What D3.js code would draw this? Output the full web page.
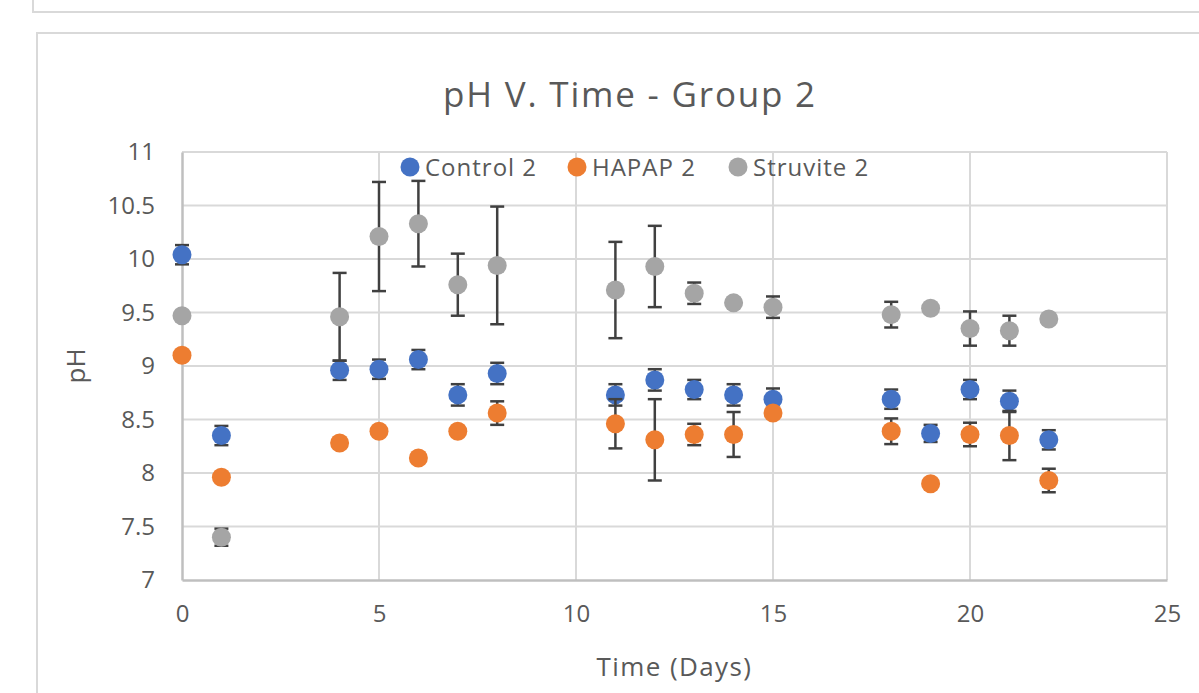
<!DOCTYPE html>
<html lang="en">
<head>
  <meta charset="UTF-8">
  <title>pH V. Time - Group 2</title>
  <script src="https://cdn.jsdelivr.net/npm/d3@7"></script>
  <style type="text/css">
    body { margin:0; background:#fff; }
    svg { display:block; }
    text { font-family: "Open Sans", sans-serif; fill:#595959; }
  </style>
</head>
<body>
<svg id="chart" width="1199" height="693"></svg>
<script>

  const days     = [0, 1, 4, 5, 6, 7, 8, 11, 12, 13, 14, 15, 18, 19, 20, 21, 22];
  const control  = [10.04, 8.35, 8.96, 8.97, 9.06, 8.73, 8.93, 8.73, 8.87, 8.78, 8.73, 8.69, 8.69, 8.37, 8.78, 8.67, 8.31];
  const controlErr = [0.09, 0.09, 0.09, 0.09, 0.09, 0.10, 0.10, 0.10, 0.10, 0.09, 0.10, 0.10, 0.09, 0.08, 0.09, 0.10, 0.09];
  const hapap    = [9.10, 7.96, 8.28, 8.39, 8.14, 8.39, 8.56, 8.46, 8.31, 8.36, 8.36, 8.56, 8.39, 7.90, 8.36, 8.35, 7.93];
  const hapapErr = [0.02, 0.03, 0.03, 0.02, 0.03, 0.03, 0.11, 0.23, 0.38, 0.10, 0.21, 0.02, 0.12, 0.03, 0.11, 0.23, 0.11];
  const struvite = [9.47, 7.40, 9.46, 10.21, 10.33, 9.76, 9.94, 9.71, 9.93, 9.68, 9.59, 9.55, 9.48, 9.54, 9.35, 9.33, 9.44];
  const struviteErr = [0.03, 0.08, 0.41, 0.51, 0.40, 0.29, 0.55, 0.45, 0.38, 0.10, 0.03, 0.10, 0.12, 0.00, 0.16, 0.14, 0.04];

  const xTicks = [0, 5, 10, 15, 20, 25];
  const yTicks = [7, 7.5, 8, 8.5, 9, 9.5, 10, 10.5, 11];

  const series = [
    {name: 'Control 2',  values: control,  errs: controlErr,  color: '#4472C4'},
    {name: 'HAPAP 2',    values: hapap,    errs: hapapErr,    color: '#ED7D31'},
    {name: 'Struvite 2', values: struvite, errs: struviteErr, color: '#A5A5A5'}
  ];

  const svg = d3.select('#chart');

  // screenshot frames
  svg.append('rect').attr('x', 33).attr('y', -20).attr('width', 1200).attr('height', 32)
    .attr('fill', 'none').attr('stroke', '#d9d9d9').attr('stroke-width', 2);
  svg.append('rect').attr('x', 37).attr('y', 33).attr('width', 1200).attr('height', 700)
    .attr('fill', '#fff').attr('stroke', '#d9d9d9').attr('stroke-width', 2);

  const pL = 182, pR = 1167, pT = 152, pB = 580;
  const x = d3.scaleLinear().domain([0, 25]).range([pL, pR]);
  const y = d3.scaleLinear().domain([7, 11]).range([pB, pT]);

  // grid
  const grid = svg.append('g');
  grid.selectAll('.hg').data(yTicks.slice(1)).enter().append('line')
    .attr('x1', pL).attr('x2', pR).attr('y1', d => y(d)).attr('y2', d => y(d))
    .attr('stroke', '#d9d9d9').attr('stroke-width', 2);
  grid.selectAll('.vg').data(xTicks.slice(1)).enter().append('line')
    .attr('y1', pT).attr('y2', pB).attr('x1', d => x(d)).attr('x2', d => x(d))
    .attr('stroke', '#d9d9d9').attr('stroke-width', 2);

  // axes
  const xAxis = svg.append('g').attr('transform', `translate(0,${pB})`)
    .call(d3.axisBottom(x).tickValues(xTicks).tickSize(0).tickPadding(25));
  const yAxis = svg.append('g').attr('transform', `translate(${pL},0)`)
    .call(d3.axisLeft(y).tickValues(yTicks).tickSize(0).tickPadding(27).tickFormat(d3.format('')));
  [xAxis, yAxis].forEach(a => {
    a.select('.domain').attr('stroke', '#bfbfbf').attr('stroke-width', 2.5);
    a.selectAll('text').style('font-size', '24px').attr('fill', '#595959');
  });

  // error bars + points
  series.forEach(s => {
    const g = svg.append('g');
    const pts = days.map((d, i) => ({d: d, v: s.values[i], e: s.errs[i]}));
    const eb = g.selectAll('.eb').data(pts.filter(p => p.e > 0)).enter().append('g')
      .attr('stroke', '#404040').attr('stroke-width', 2.5);
    eb.append('line').attr('x1', p => x(p.d)).attr('x2', p => x(p.d))
      .attr('y1', p => y(p.v + p.e)).attr('y2', p => y(p.v - p.e));
    eb.append('line').attr('x1', p => x(p.d) - 7).attr('x2', p => x(p.d) + 7)
      .attr('y1', p => y(p.v + p.e)).attr('y2', p => y(p.v + p.e));
    eb.append('line').attr('x1', p => x(p.d) - 7).attr('x2', p => x(p.d) + 7)
      .attr('y1', p => y(p.v - p.e)).attr('y2', p => y(p.v - p.e));
    g.selectAll('circle').data(pts).enter().append('circle')
      .attr('cx', p => x(p.d)).attr('cy', p => y(p.v)).attr('r', 9.5)
      .attr('fill', s.color);
  });

  // title
  svg.append('text').attr('x', 630).attr('y', 107).attr('text-anchor', 'middle')
    .style('font-size', '35px').style('letter-spacing', '1.8px').text('pH V. Time - Group 2');

  // legend
  const legX = [410, 577, 738];
  const leg = svg.selectAll('.leg').data(series).enter().append('g')
    .attr('transform', (d, i) => `translate(${legX[i]},167)`);
  leg.append('circle').attr('r', 9.5).attr('fill', d => d.color);
  leg.append('text').attr('x', 15).attr('y', 8.5).style('font-size', '24px')
    .style('letter-spacing', '1px').text(d => d.name);

  // axis titles
  svg.append('text').attr('x', (pL + pR) / 2).attr('y', 676).attr('text-anchor', 'middle')
    .style('font-size', '26px').style('letter-spacing', '1.4px').text('Time (Days)');
  svg.append('text').attr('transform', `translate(85,${(pT + pB) / 2}) rotate(-90)`)
    .attr('text-anchor', 'middle').style('font-size', '26px').text('pH');

</script>
</body>
</html>
